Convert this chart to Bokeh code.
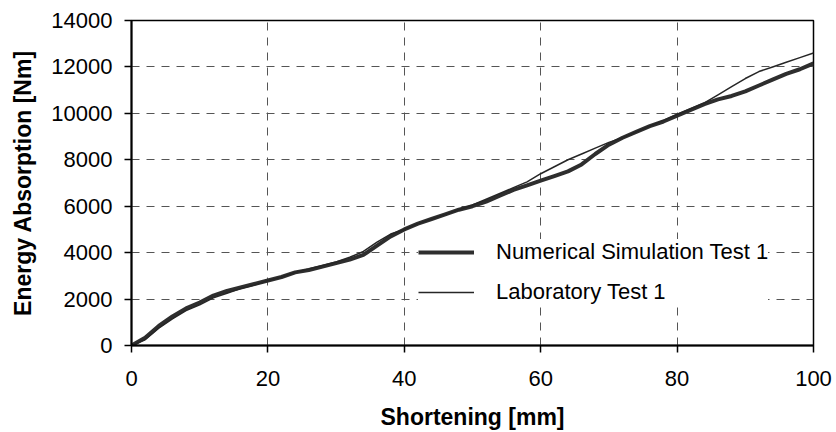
from bokeh.plotting import figure
from bokeh.models import Range1d, FixedTicker, NumeralTickFormatter, Legend, LegendItem
from bokeh.embed import file_html
from bokeh.resources import INLINE

# Data
shortening = [0, 2, 4, 6, 8, 10, 12, 14, 16, 18, 20, 22, 24, 26, 28, 30, 32, 34, 36, 38, 40,
              42, 44, 46, 48, 50, 52, 54, 56, 58, 60, 62, 64, 66, 68, 70, 72, 74, 76, 78, 80,
              82, 84, 86, 88, 90, 92, 94, 96, 98, 100]
numerical_sim = [0, 330, 840, 1250, 1600, 1850, 2150, 2350, 2500, 2650, 2800, 2950, 3150, 3250,
                 3400, 3550, 3700, 3900, 4300, 4700, 5000, 5250, 5450, 5650, 5850, 6000, 6200,
                 6450, 6700, 6900, 7100, 7300, 7500, 7800, 8250, 8650, 8950, 9200, 9450, 9650,
                 9900, 10150, 10400, 10600, 10750, 10950, 11200, 11450, 11700, 11900, 12150]
laboratory = [0, 250, 750, 1150, 1500, 1750, 2050, 2250, 2450, 2600, 2800, 2950, 3150, 3300,
              3450, 3600, 3800, 4050, 4450, 4800, 5000, 5250, 5450, 5650, 5850, 6050, 6300,
              6550, 6800, 7050, 7400, 7700, 8000, 8250, 8500, 8750, 8950, 9200, 9450, 9700,
              9950, 10200, 10450, 10800, 11150, 11500, 11800, 12000, 12200, 12400, 12600]
x_ticks = [0, 20, 40, 60, 80, 100]
y_ticks = [0, 2000, 4000, 6000, 8000, 10000, 12000, 14000]
series_names = ["Numerical Simulation Test 1", "Laboratory Test 1"]

FONT = "Liberation Sans"

p = figure(width=836, height=432, output_backend="svg", toolbar_location=None,
           x_range=Range1d(0, 100), y_range=Range1d(0, 14000),
           min_border_left=131, min_border_right=23, min_border_top=20, min_border_bottom=87)
p.background_fill_color = "white"
p.border_fill_color = "white"
p.outline_line_color = "black"
p.outline_line_width = 1.5

# grid
for g in (p.xgrid, p.ygrid):
    g.grid_line_color = "#555555"
    g.grid_line_width = 1
    g.grid_line_dash = "8 7"
p.xgrid.ticker = FixedTicker(ticks=x_ticks)
p.ygrid.ticker = FixedTicker(ticks=y_ticks)

# axes
p.xaxis.ticker = FixedTicker(ticks=x_ticks)
p.yaxis.ticker = FixedTicker(ticks=y_ticks)
p.yaxis.formatter = NumeralTickFormatter(format="0")
p.xaxis.formatter = NumeralTickFormatter(format="0")
for ax in (p.xaxis, p.yaxis):
    ax.axis_line_color = "black"
    ax.axis_line_width = 2
    ax.major_tick_line_color = "black"
    ax.major_tick_line_width = 1.5
    ax.major_tick_out = 7
    ax.major_tick_in = 0
    ax.minor_tick_line_color = None
    ax.major_label_text_font = FONT
    ax.major_label_text_font_size = "22px"
    ax.major_label_text_color = "black"
    ax.axis_label_text_font = FONT
    ax.axis_label_text_font_size = "23px"
    ax.axis_label_text_font_style = "bold"
    ax.axis_label_text_color = "black"
p.xaxis.axis_label = "Shortening [mm]"
p.yaxis.axis_label = "Energy Absorption [Nm]"
p.xaxis.major_label_standoff = 18
p.yaxis.major_label_standoff = 12
p.xaxis.axis_label_standoff = 15
p.yaxis.axis_label_standoff = 12

# curves
r_num = p.line(shortening, numerical_sim, line_color="#2e2e2e", line_width=4)
r_lab = p.line(shortening, laboratory, line_color="#262626", line_width=1.5)

legend = Legend(items=[LegendItem(label=series_names[0], renderers=[r_num]),
                       LegendItem(label=series_names[1], renderers=[r_lab])],
                location=(287, 40))
legend.label_text_font = FONT
legend.label_text_font_size = "22px"
legend.label_text_color = "black"
legend.glyph_width = 56
legend.glyph_height = 22
legend.label_height = 22
legend.label_standoff = 22
legend.spacing = 14
legend.padding = 5
legend.margin = 0
legend.border_line_color = None
legend.background_fill_color = "white"
legend.background_fill_alpha = 1.0
p.add_layout(legend)

open("out.html", "w").write(file_html(p, INLINE))
